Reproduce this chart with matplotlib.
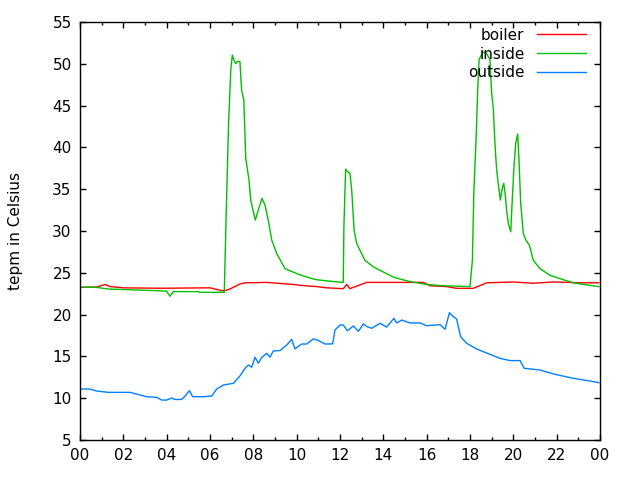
import matplotlib
matplotlib.use("Agg")
import matplotlib.pyplot as plt
from matplotlib.ticker import MultipleLocator, FuncFormatter

# hours since midnight
boiler_h = [0.0, 0.77, 1.15, 1.38, 2.0, 3.69, 6.0, 6.54, 6.69, 6.92, 7.38, 7.62,
            8.62, 9.85, 10.15, 10.92, 11.38, 12.15, 12.31, 12.46, 13.23, 15.85,
            16.15, 16.92, 17.38, 18.15, 18.77, 20.0, 20.92, 21.85, 23.23, 23.95]
boiler_t = [23.25, 23.3, 23.6, 23.35, 23.2, 23.15, 23.2, 22.86, 22.86, 23.06,
            23.66, 23.8, 23.85, 23.6, 23.5, 23.35, 23.2, 23.1, 23.6, 23.1, 23.85,
            23.85, 23.45, 23.35, 23.14, 23.14, 23.8, 23.9, 23.75, 23.9, 23.8, 23.8]

inside_h = [0.0, 0.77, 1.31, 2.62, 3.54, 4.0, 4.15, 4.31, 5.46, 5.54, 6.66,
            6.74, 6.80, 6.86, 6.96, 7.03, 7.08, 7.19, 7.26, 7.38, 7.46, 7.56,
            7.65, 7.80, 7.88, 8.0, 8.09, 8.23, 8.4, 8.54, 8.69, 8.85, 9.08,
            9.46, 10.0, 10.46, 10.85, 11.31, 12.15, 12.18, 12.26, 12.34, 12.46,
            12.54, 12.65, 12.77, 12.92, 13.15, 13.54, 14.0, 14.46, 14.77, 15.23,
            16.0, 16.77, 18.0, 18.11, 18.18, 18.28, 18.35, 18.42, 18.59, 18.77,
            18.92, 19.0, 19.08, 19.15, 19.23, 19.32, 19.40, 19.49, 19.56, 19.62,
            19.69, 19.77, 19.88, 19.95, 20.03, 20.11, 20.2, 20.26, 20.34, 20.46,
            20.58, 20.74, 20.92, 21.23, 21.69, 22.15, 22.77, 23.38, 23.95]
inside_t = [23.3, 23.25, 23.06, 22.94, 22.86, 22.8, 22.2, 22.75, 22.75, 22.66,
            22.66, 31.3, 37.3, 43.1, 49.3, 51.05, 50.6, 50.0, 50.25, 50.3, 46.8,
            45.7, 38.7, 36.1, 33.7, 32.3, 31.3, 32.5, 33.9, 33.1, 31.3, 28.9,
            27.3, 25.5, 24.9, 24.5, 24.2, 24.05, 23.85, 30.5, 37.4, 37.1, 36.9,
            34.9, 30.1, 28.5, 27.7, 26.5, 25.7, 25.1, 24.5, 24.25, 23.95, 23.6,
            23.45, 23.35, 26.5, 34.9, 40.9, 46.5, 50.5, 51.4, 51.2, 50.5, 46.5,
            44.5, 40.5, 37.3, 35.3, 33.7, 35.1, 35.7, 34.5, 32.5, 30.9, 29.9,
            33.7, 37.7, 40.5, 41.6, 38.5, 33.3, 29.7, 28.9, 28.3, 26.5, 25.5,
            24.7, 24.3, 23.8, 23.55, 23.35]

outside_h = [0.0, 0.46, 0.77, 1.31, 2.31, 2.77, 3.08, 3.54, 3.77, 4.0, 4.23, 4.38,
             4.69, 4.85, 5.05, 5.2, 5.69, 6.08, 6.31, 6.62, 7.08, 7.38, 7.62,
             7.77, 7.92, 8.08, 8.23, 8.38, 8.62, 8.77, 8.92, 9.23, 9.54, 9.77,
             9.92, 10.23, 10.46, 10.77, 11.0, 11.31, 11.66, 11.77, 12.0, 12.15,
             12.34, 12.62, 12.85, 13.08, 13.23, 13.46, 13.85, 14.15, 14.49,
             14.62, 14.85, 15.23, 15.69, 16.0, 16.62, 16.85, 17.05, 17.23,
             17.38, 17.57, 17.85, 18.31, 18.92, 19.38, 19.85, 20.31, 20.5,
             21.23, 21.85, 22.77, 23.54, 23.95]
outside_t = [11.1, 11.1, 10.86, 10.7, 10.7, 10.38, 10.18, 10.1, 9.78, 9.78,
             10.02, 9.85, 9.85, 10.26, 10.9, 10.18, 10.18, 10.26, 11.1, 11.58,
             11.78, 12.66, 13.58, 13.97, 13.7, 14.9, 14.18, 14.85, 15.37, 14.9,
             15.65, 15.7, 16.36, 17.04, 15.9, 16.48, 16.48, 17.1, 16.9, 16.48,
             16.5, 18.16, 18.76, 18.76, 18.07, 18.64, 18.0, 18.9, 18.58, 18.36,
             18.96, 18.5, 19.55, 19.0, 19.35, 19.0, 19.0, 18.67, 18.8, 18.24,
             20.23, 19.76, 19.47, 17.35, 16.56, 15.88, 15.25, 14.77, 14.5, 14.5,
             13.58, 13.37, 12.9, 12.38, 12.06, 11.85]

fig = plt.figure(figsize=(6.4, 4.8), dpi=100)
ax = fig.add_axes([0.125, 0.0833, 0.8125, 0.871])

ax.plot(boiler_h, boiler_t, color='#ff0000', lw=1.0, label='boiler')
ax.plot(inside_h, inside_t, color='#00c000', lw=1.0, label='inside')
ax.plot(outside_h, outside_t, color='#0080ff', lw=1.0, label='outside')

ax.set_xlim(0, 24)
ax.set_ylim(5, 55)
ax.xaxis.set_major_locator(MultipleLocator(2))
ax.xaxis.set_minor_locator(MultipleLocator(1))
ax.xaxis.set_major_formatter(FuncFormatter(lambda v, p: '%02d' % (int(round(v)) % 24)))
ax.yaxis.set_major_locator(MultipleLocator(5))
ax.tick_params(which='both', direction='in', top=True, right=True, labelsize=11, pad=6)
ax.tick_params(which='major', length=4.5, width=1)
ax.tick_params(which='minor', length=2.5, width=1)
for s in ax.spines.values():
    s.set_linewidth(1.0)

ax.set_ylabel('tepm in Celsius', fontsize=11)
ax.yaxis.set_label_coords(-0.11, 0.5)

ax.legend(loc='upper right', frameon=False, markerfirst=False, fontsize=11,
          handlelength=3.2, labelspacing=0.25, borderaxespad=0.2,
          bbox_to_anchor=(0.99, 1.008))

fig.savefig('out.png', dpi=100)
